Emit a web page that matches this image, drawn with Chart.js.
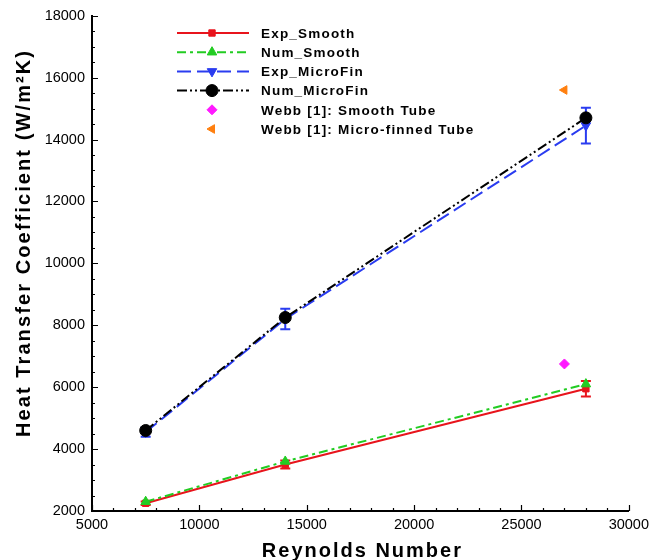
<!DOCTYPE html>
<html>
<head>
<meta charset="utf-8">
<script src="https://cdn.jsdelivr.net/npm/chart.js@4.4.1/dist/chart.umd.min.js"></script>
<style>
  html, body { margin: 0; padding: 0; background: #fff; }
  #wrap { width: 654px; height: 560px; }
</style>
</head>
<body>
<div id="wrap"><canvas id="c" width="654" height="560"></canvas></div>
<script>
// Reynolds numbers tested
const reynolds = [7500, 14000, 28000];

// Heat transfer coefficient, W/m²K
const expSmooth = [2250, 3500, 5950];
const expSmoothErr = [60, 130, 250];
const numSmooth = [2300, 3600, 6100];
const expMicroFin = [4550, 8200, 14450];
const expMicroFinErr = [150, 330, 580];
const numMicroFin = [4600, 8250, 14700];

// Literature points (Webb [1])
const webbSmooth = { x: 27000, y: 6750 };
const webbMicro = { x: 27000, y: 15600 };

const xTicks = [5000, 10000, 15000, 20000, 25000, 30000];
const yTicks = [2000, 4000, 6000, 8000, 10000, 12000, 14000, 16000, 18000];

const xTitle = 'Reynolds Number';
const yTitle = 'Heat Transfer Coefficient (W/m\u00B2K)';

const FONT = '"Liberation Sans", Arial, sans-serif';

const pts = arr => reynolds.map((r, i) => ({ x: r, y: arr[i] }));

const datasets = [
  { label: 'Exp_Smooth', data: pts(expSmooth), showLine: true, order: 3,
    borderColor: '#e8141c', backgroundColor: '#e8141c', borderWidth: 2,
    pointStyle: 'rect', pointRadius: 4.5, borderDash: [], errors: expSmoothErr },
  { label: 'Num_Smooth', data: pts(numSmooth), showLine: true, order: 2,
    borderColor: '#22cc22', backgroundColor: '#22cc22', borderWidth: 2,
    pointStyle: 'triangle', pointRadius: 5.5, borderDash: [9, 4, 3, 4] },
  { label: 'Exp_MicroFin', data: pts(expMicroFin), showLine: true, order: 1,
    borderColor: '#2a3cf0', backgroundColor: '#2a3cf0', borderWidth: 2,
    pointStyle: 'triangle', rotation: 180, pointRadius: 5.5, borderDash: [14, 6], errors: expMicroFinErr },
  { label: 'Num_MicroFin', data: pts(numMicroFin), showLine: true, order: 0,
    borderColor: '#000000', backgroundColor: '#000000', borderWidth: 2,
    pointStyle: 'circle', pointRadius: 6, borderDash: [10, 3, 2, 3, 2, 3] },
  { label: 'Webb [1]: Smooth Tube', data: [webbSmooth], showLine: false, order: 0,
    borderColor: '#ff19ff', backgroundColor: '#ff19ff', borderWidth: 1,
    pointStyle: 'rectRot', pointRadius: 5 },
  { label: 'Webb [1]: Micro-finned Tube', data: [webbMicro], showLine: false, order: 0,
    borderColor: '#ff7f0e', backgroundColor: '#ff7f0e', borderWidth: 1,
    pointStyle: 'triangle', rotation: -90, pointRadius: 5 }
];
datasets.forEach(d => {
  d.pointBorderColor = d.borderColor;
  d.pointBackgroundColor = d.backgroundColor;
  d.pointBorderWidth = 1;
  d.pointRotation = d.rotation || 0;
});

// text with extra letter spacing (falls back to a horizontal stretch)
function spacedText(ctx, text, x, y, spacing, fallbackScale) {
  if ('letterSpacing' in ctx) {
    ctx.letterSpacing = spacing + 'px';
    ctx.fillText(text, x, y);
    ctx.letterSpacing = '0px';
  } else {
    ctx.save();
    ctx.translate(x, y);
    ctx.scale(fallbackScale, 1);
    ctx.fillText(text, 0, 0);
    ctx.restore();
  }
}

// vertical error bars with caps, drawn beneath the markers
const errorBars = {
  id: 'errorBars',
  beforeDatasetsDraw(chart) {
    const { ctx, scales: { x, y } } = chart;
    chart.data.datasets.forEach(ds => {
      if (!ds.errors) return;
      ctx.save();
      ctx.strokeStyle = ds.borderColor;
      ctx.lineWidth = 2;
      ds.data.forEach((p, i) => {
        const px = x.getPixelForValue(p.x);
        const top = y.getPixelForValue(p.y + ds.errors[i]);
        const bot = y.getPixelForValue(p.y - ds.errors[i]);
        ctx.beginPath();
        ctx.moveTo(px, top); ctx.lineTo(px, bot);
        ctx.moveTo(px - 5, top); ctx.lineTo(px + 5, top);
        ctx.moveTo(px - 5, bot); ctx.lineTo(px + 5, bot);
        ctx.stroke();
      });
      ctx.restore();
    });
  }
};

// inward major and minor tick marks, plus axis titles
const axisDecor = {
  id: 'axisDecor',
  afterDraw(chart) {
    const { ctx, chartArea: a, scales: { x, y } } = chart;
    ctx.save();
    ctx.strokeStyle = '#000';
    ctx.lineWidth = 1.2;
    ctx.beginPath();
    for (let v = 5000; v <= 30000; v += 1000) {
      const px = Math.round(x.getPixelForValue(v)) + 0.5;
      const len = v % 5000 === 0 ? 6 : 3;
      ctx.moveTo(px, a.bottom); ctx.lineTo(px, a.bottom - len);
    }
    for (let v = 2000; v <= 18000; v += 500) {
      const py = Math.round(y.getPixelForValue(v)) + 0.5;
      const len = v % 2000 === 0 ? 6 : 3;
      ctx.moveTo(a.left, py); ctx.lineTo(a.left + len, py);
    }
    ctx.stroke();

    ctx.fillStyle = '#000';
    ctx.font = 'bold 20px ' + FONT;
    ctx.textAlign = 'center';
    ctx.textBaseline = 'middle';
    spacedText(ctx, xTitle, (a.left + a.right) / 2 + 2, 551, 2, 1.16);

    ctx.save();
    ctx.translate(24, 243);
    ctx.rotate(-Math.PI / 2);
    spacedText(ctx, yTitle, 0, 0, 2.1, 1.2);
    ctx.restore();
    ctx.restore();
  }
};

// legend drawn inside the plot area
const innerLegend = {
  id: 'innerLegend',
  afterDraw(chart) {
    const ctx = chart.ctx;
    const x0 = 177, x1 = 249, xm = 212, tx = 261;
    const step = 19.2;
    let yRow = 33;
    ctx.save();
    chart.data.datasets.forEach(ds => {
      if (ds.showLine) {
        ctx.strokeStyle = ds.borderColor;
        ctx.lineWidth = 2;
        ctx.setLineDash(ds.borderDash || []);
        ctx.beginPath();
        ctx.moveTo(x0, yRow); ctx.lineTo(x1, yRow);
        ctx.stroke();
        ctx.setLineDash([]);
      }
      ctx.fillStyle = ds.backgroundColor;
      ctx.strokeStyle = ds.borderColor;
      ctx.lineWidth = 1;
      Chart.helpers.drawPoint(ctx, {
        pointStyle: ds.pointStyle, rotation: ds.rotation || 0,
        radius: ds.pointRadius, borderWidth: 1
      }, xm, yRow);
      ctx.fillStyle = '#000';
      ctx.font = 'bold 13.5px ' + FONT;
      ctx.textBaseline = 'middle';
      ctx.textAlign = 'left';
      spacedText(ctx, ds.label, tx, yRow + 1, 1.2, 1.17);
      yRow += step;
    });
    ctx.restore();
  }
};

Chart.defaults.font.family = FONT;
Chart.defaults.color = '#000';

new Chart(document.getElementById('c'), {
  type: 'scatter',
  data: { datasets },
  options: {
    responsive: false,
    animation: false,
    layout: { padding: { top: 15, right: 22, left: 6, bottom: 2 } },
    plugins: { legend: { display: false }, tooltip: { enabled: false } },
    scales: {
      x: {
        type: 'linear', min: 5000, max: 30000,
        afterBuildTicks: s => { s.ticks = xTicks.map(v => ({ value: v })); },
        ticks: { font: { size: 14.5 }, padding: 5, maxRotation: 0, autoSkip: false, callback: v => String(v) },
        grid: { display: false, drawTicks: false },
        border: { display: true, color: '#000', width: 2 },
        title: { display: false },
        afterFit: s => { s.height = 47; }
      },
      y: {
        type: 'linear', min: 2000, max: 18000,
        afterBuildTicks: s => { s.ticks = yTicks.map(v => ({ value: v })); },
        ticks: { font: { size: 14.5 }, padding: 7, autoSkip: false, callback: v => String(v) },
        grid: { display: false, drawTicks: false },
        border: { display: true, color: '#000', width: 2 },
        title: { display: false },
        afterFit: s => { s.width = 86; }
      }
    }
  },
  plugins: [errorBars, axisDecor, innerLegend]
});
</script>
</body>
</html>
